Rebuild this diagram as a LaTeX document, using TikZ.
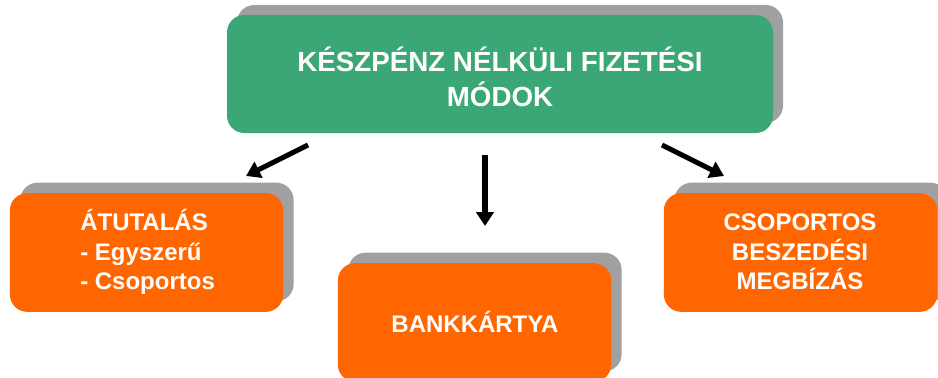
\documentclass[tikz,border=0pt]{standalone}
\usepackage{fontspec}
\setmainfont{Liberation Sans}
\usetikzlibrary{arrows.meta}
\definecolor{boxgreen}{RGB}{59,166,118}
\definecolor{boxorange}{RGB}{255,102,0}
\definecolor{shadowgray}{RGB}{160,160,160}
\begin{document}
\begin{tikzpicture}[x=0.75pt,y=-0.75pt,
  card/.style={rounded corners=13pt, inner sep=0pt, draw=none},
  bigcard/.style={card, minimum width=409.5pt, minimum height=88.5pt},
  smallcard/.style={card, minimum width=205pt, minimum height=89pt},
  shadowcard/.style={fill=shadowgray},
  label/.style={text=white, font=\bfseries, inner sep=0pt},
  arrowline/.style={line width=3.8pt, -{Triangle[width=13pt,length=10.5pt]}}
]
\useasboundingbox (0,0) rectangle (938,378);
\begin{scope}
\clip (0,0) rectangle (938,378);
% shadows
\node[bigcard, shadowcard] (tshadow) at (510,64) {};
\node[smallcard, shadowcard] (lshadow) at (157,242) {};
\node[smallcard, shadowcard] (mshadow) at (485,312) {};
\node[smallcard, shadowcard] (rshadow) at (811,242) {};
% boxes
\node[bigcard, fill=boxgreen] (top) at (500,74) {};
\node[smallcard, fill=boxorange] (left) at (146.5,252.5) {};
\node[smallcard, fill=boxorange] (mid) at (474.5,322.5) {};
\node[smallcard, fill=boxorange] (right) at (800.5,252.5) {};
\end{scope}
% texts
\node[label, align=center, font=\fontsize{20.8}{26}\selectfont\bfseries] (ttext) at (500,77) {KÉSZPÉNZ NÉLKÜLI FIZETÉSI\\MÓDOK};
\node[label, align=left, anchor=west, font=\fontsize{18}{22}\selectfont\bfseries] (ltext) at (80,252) {ÁTUTALÁS\\ - Egyszerű\\ - Csoportos};
\node[label, font=\fontsize{18}{22}\selectfont\bfseries] (mtext) at (475,322) {BANKKÁRTYA};
\node[label, align=center, font=\fontsize{18}{22}\selectfont\bfseries] (rtext) at (800,252) {CSOPORTOS\\BESZEDÉSI\\MEGBÍZÁS};
% arrows
\coordinate (a1s) at (308,145);
\coordinate (a1e) at (246,176);
\coordinate (a2s) at (485,155);
\coordinate (a2e) at (485,226);
\coordinate (a3s) at (662,145);
\coordinate (a3e) at (724,176);
\draw[arrowline] (a1s) -- (a1e);
\draw[arrowline] (a2s) -- (a2e);
\draw[arrowline] (a3s) -- (a3e);
\end{tikzpicture}
\end{document}
